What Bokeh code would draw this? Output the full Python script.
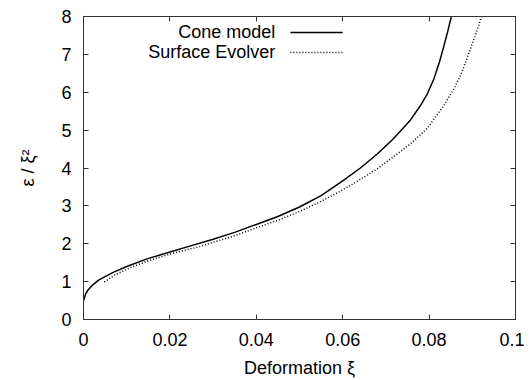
from bokeh.plotting import figure
from bokeh.models import LinearAxis, FixedTicker, Label, Range1d, CustomJSTickFormatter
from bokeh.embed import file_html
from bokeh.resources import INLINE

# ---- data ----
cone_x = [0.0, 0.0005, 0.001, 0.002, 0.0035, 0.005, 0.007, 0.01, 0.0147, 0.02,
          0.025, 0.03, 0.035, 0.04, 0.045, 0.05, 0.055, 0.06, 0.0641, 0.068,
          0.0718, 0.0757, 0.078, 0.0796, 0.0811, 0.0824, 0.0835, 0.0843,
          0.0851, 0.0858]
cone_y = [0.50, 0.68, 0.77, 0.90, 1.04, 1.13, 1.25, 1.40, 1.60, 1.78,
          1.95, 2.12, 2.30, 2.51, 2.72, 2.97, 3.27, 3.66, 4.00, 4.37,
          4.78, 5.27, 5.65, 5.96, 6.35, 6.80, 7.25, 7.60,
          7.98, 8.35]

se_x = [0.0048, 0.0075, 0.0109, 0.015, 0.02, 0.0267, 0.03, 0.035, 0.04, 0.045,
        0.05, 0.055, 0.06, 0.0641, 0.068, 0.0718, 0.0757, 0.0796, 0.0834,
        0.0857, 0.0873, 0.0888, 0.0907, 0.0921, 0.0932]
se_y = [0.99, 1.19, 1.37, 1.55, 1.73, 1.92, 2.04, 2.21, 2.42, 2.62,
        2.85, 3.12, 3.42, 3.70, 3.98, 4.30, 4.64, 5.05, 5.65,
        6.08, 6.45, 6.90, 7.50, 7.98, 8.40]

x_ticks = [0, 0.02, 0.04, 0.06, 0.08, 0.1]
x_tick_labels = ["0", "0.02", "0.04", "0.06", "0.08", "0.1"]
y_ticks = [0, 1, 2, 3, 4, 5, 6, 7, 8]
series_names = ["Cone model", "Surface Evolver"]

FONT = "Liberation Sans"
FS = "18px"

p = figure(width=524, height=380, output_backend="svg", toolbar_location=None,
           x_range=Range1d(0, 0.1), y_range=Range1d(0, 8),
           min_border_left=83, min_border_right=9, min_border_top=16,
           min_border_bottom=61)
p.xgrid.visible = False
p.ygrid.visible = False
p.outline_line_color = "#333333"
p.outline_line_width = 1
p.background_fill_color = "white"
p.border_fill_color = "white"

p.line(cone_x, cone_y, line_color="black", line_width=1.5)
p.line(se_x, se_y, line_color="black", line_width=1.5, line_dash="1 2")

def style_axis(ax):
    ax.major_tick_in = 5
    ax.major_tick_out = 0
    ax.minor_tick_in = 0
    ax.minor_tick_out = 0
    ax.axis_line_color = "#333333"
    ax.major_tick_line_color = "#333333"
    ax.major_label_text_font = FONT
    ax.major_label_text_font_size = FS
    ax.major_label_text_color = "black"
    ax.axis_label_text_font = FONT
    ax.axis_label_text_font_size = FS
    ax.axis_label_text_font_style = "normal"
    ax.axis_label_text_color = "black"

overrides = {t: l for t, l in zip(x_ticks, x_tick_labels)}

xa = p.xaxis[0]
xa.ticker = FixedTicker(ticks=x_ticks)
xa.major_label_overrides = overrides
style_axis(xa)
xa.major_label_standoff = 13
xa.axis_label = "Deformation ξ"
xa.axis_label_standoff = 9

ya = p.yaxis[0]
ya.ticker = FixedTicker(ticks=y_ticks)
style_axis(ya)
ya.major_label_standoff = 12
ya.axis_label = "ε / ξ²"
ya.axis_label_standoff = 20

blank = CustomJSTickFormatter(code="return ''")
top = LinearAxis(ticker=FixedTicker(ticks=x_ticks), formatter=blank)
style_axis(top)
top.major_label_standoff = 0
p.add_layout(top, "above")
right = LinearAxis(ticker=FixedTicker(ticks=y_ticks), formatter=blank)
style_axis(right)
right.major_label_standoff = 0
p.add_layout(right, "right")

# legend (label then sample, as in the reference)
leg_text_x = 0.0444
leg_line_x0, leg_line_x1 = 0.0479, 0.0600
leg_ys = [7.58, 7.05]
dashes = ["solid", "1 2"]
for name, ly, dash in zip(series_names, leg_ys, dashes):
    p.add_layout(Label(x=leg_text_x, y=ly, text=name, text_align="right",
                       text_baseline="middle", text_font=FONT,
                       text_font_size=FS, text_color="black"))
    p.segment(x0=[leg_line_x0], y0=[ly], x1=[leg_line_x1], y1=[ly],
              line_color="black", line_width=1.5, line_dash=dash)

open("out.html", "w").write(file_html(p, INLINE))
